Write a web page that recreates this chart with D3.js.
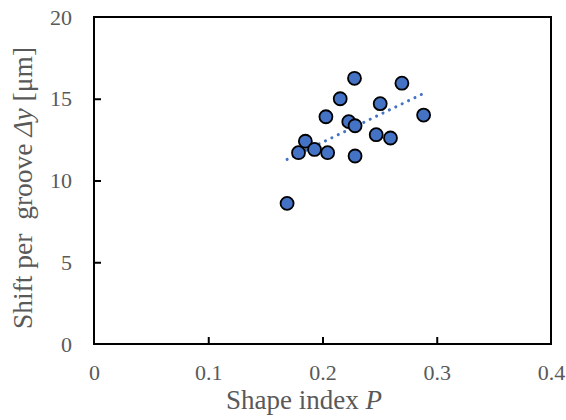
<!DOCTYPE html>
<html>
<head>
<meta charset="utf-8">
<script src="https://cdn.jsdelivr.net/npm/d3@7"></script>
<style>
  body { margin: 0; background: #fff; }
</style>
</head>
<body>
<svg width="566" height="420" font-family="Liberation Serif"></svg>
<script>
// data
var shapeIndex = [0.169, 0.179, 0.185, 0.193, 0.2045, 0.203, 0.2155, 0.223, 0.2285, 0.228, 0.2285, 0.247, 0.2505, 0.2595, 0.2695, 0.2885];
var shiftY     = [8.6, 11.7, 12.4, 11.9, 11.7, 13.9, 15.0, 13.6, 13.35, 16.25, 11.5, 12.8, 14.7, 12.6, 15.95, 14.0];
var xTicks = [0, 0.1, 0.2, 0.3, 0.4];
var yTicks = [0, 5, 10, 15, 20];

var serif = "'Liberation Serif'";
var grey = "#595959";

var svg = d3.select("svg"),
    margin = {top: 17, right: 15, bottom: 76, left: 94},
    width = +svg.attr("width") - margin.left - margin.right,
    height = +svg.attr("height") - margin.top - margin.bottom,
    g = svg.append("g").attr("transform", "translate(" + margin.left + "," + margin.top + ")");

var data = shapeIndex.map(function(d, i){ return {x: d, y: shiftY[i]}; });

var x = d3.scaleLinear().domain([0, 0.4]).range([0, width]);
var y = d3.scaleLinear().domain([0, 20]).range([height, 0]);

// axes, ticks pointing inward
var xAxis = g.append("g")
    .attr("transform", "translate(0," + height + ")")
    .call(d3.axisBottom(x).tickValues(xTicks).tickSize(-7).tickPadding(20)
      .tickFormat(function(d){ return d === 0 ? "0" : d3.format(".1f")(d); }));

var yAxis = g.append("g")
    .call(d3.axisLeft(y).tickValues(yTicks).tickSize(-7).tickPadding(22));

[xAxis, yAxis].forEach(function(a){
  a.attr("font-family", "Liberation Serif").attr("font-size", 22);
  a.select(".domain").remove();
  a.selectAll("line").attr("stroke", "#000").attr("stroke-width", 2);
  a.selectAll("text")
    .style("font-family", serif)
    .style("font-size", "22px")
    .style("fill", grey);
});
xAxis.selectAll(".tick line").filter(function(d){ return d === 0 || d === 0.4; }).remove();
yAxis.selectAll(".tick line").filter(function(d){ return d === 0 || d === 20; }).remove();

g.append("rect")
    .attr("width", width).attr("height", height)
    .attr("fill", "none").attr("stroke", "#000").attr("stroke-width", 2);

// linear trendline (least squares over the points)
var mx = d3.mean(data, function(d){ return d.x; }),
    my = d3.mean(data, function(d){ return d.y; });
var slope = d3.sum(data, function(d){ return (d.x - mx) * (d.y - my); }) /
            d3.sum(data, function(d){ return (d.x - mx) * (d.x - mx); });
var ext = d3.extent(data, function(d){ return d.x; });
var trend = ext.map(function(v){ return {x: v, y: my + slope * (v - mx)}; });

g.append("path")
    .datum(trend)
    .attr("fill", "none")
    .attr("stroke", "#4472C4")
    .attr("stroke-width", 3)
    .attr("stroke-linecap", "round")
    .attr("stroke-dasharray", "0.1 7")
    .attr("d", d3.line()
      .x(function(d){ return x(d.x); })
      .y(function(d){ return y(d.y); }));

g.selectAll(".dot")
    .data(data)
    .enter().append("circle")
    .attr("class", "dot")
    .attr("cx", function(d){ return x(d.x); })
    .attr("cy", function(d){ return y(d.y); })
    .attr("r", 6.5)
    .attr("fill", "#4472C4")
    .attr("stroke", "#000")
    .attr("stroke-width", 1.8);

// axis titles
var xt = svg.append("text")
    .attr("x", 304)
    .attr("y", 409)
    .attr("text-anchor", "middle")
    .style("font-family", serif)
    .style("font-size", "27px")
    .style("fill", grey);
xt.append("tspan").text("Shape index ");
xt.append("tspan").style("font-style", "italic").text("P");

var yt = svg.append("text")
    .attr("transform", "translate(32,188) rotate(-90)")
    .attr("text-anchor", "middle")
    .style("white-space", "pre")
    .style("font-family", serif)
    .style("font-size", "27.5px")
    .style("fill", grey);
yt.append("tspan").text("Shift per  groove ");
yt.append("tspan").style("font-style", "italic").text("\u0394y");
yt.append("tspan").text(" [\u03bcm]");
</script>
</body>
</html>
